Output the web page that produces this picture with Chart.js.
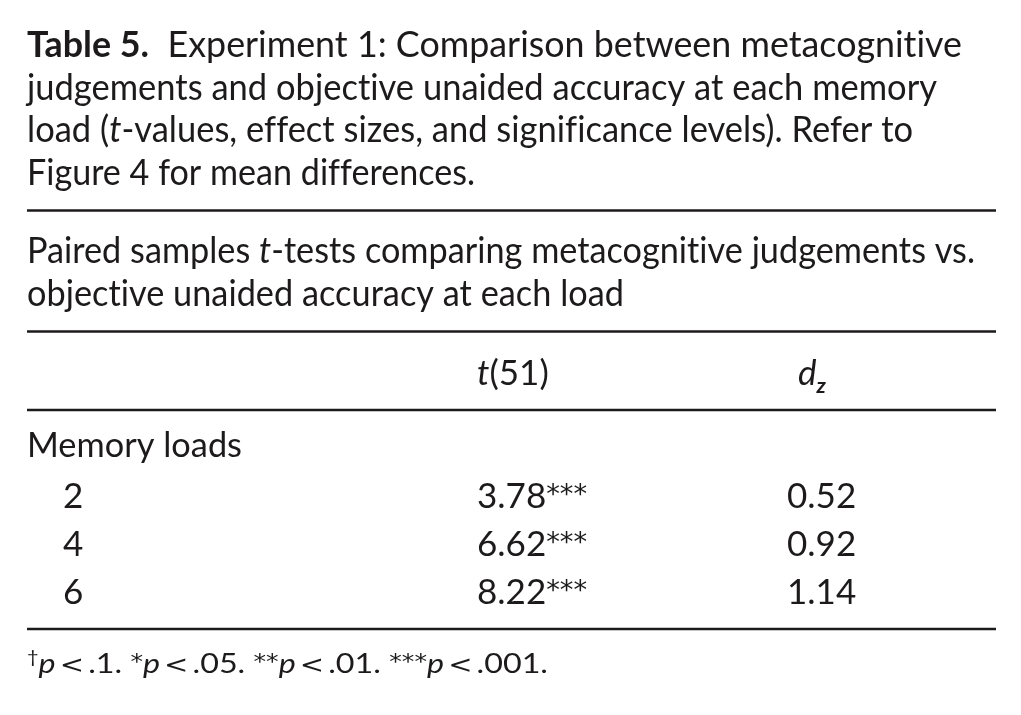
<!DOCTYPE html>
<html>
<head>
<meta charset="utf-8">
<script src="https://cdn.jsdelivr.net/npm/chart.js@4.4.1/dist/chart.umd.min.js"></script>
<style>
  html, body { margin: 0; padding: 0; background: #fff; }
  canvas { display: block; }
</style>
</head>
<body>
<canvas id="table5" width="1021" height="715"></canvas>
<script>
// ---- table data ----
const memoryLoads = ["2", "4", "6"];
const tValues = [3.78, 6.62, 8.22];
const tSignif = ["***", "***", "***"];
const dzValues = [0.52, 0.92, 1.14];
const degreesOfFreedom = 51;

// text runs: [text, style]  style: b bold, i italic, sup, sub, star, m (math symbol)
const captionLines = [
  [["Table 5.", "b"], ["  Experiment 1: Comparison between metacognitive", ""]],
  [["judgements and objective unaided accuracy at each memory", ""]],
  [["load (", ""], ["t", "i"], ["-values, effect sizes, and significance levels). Refer to", ""]],
  [["Figure 4 for mean differences.", ""]],
];
const subtitleLines = [
  [["Paired samples ", ""], ["t", "i"], ["-tests comparing metacognitive judgements vs.", ""]],
  [["objective unaided accuracy at each load", ""]],
];
const rowGroupLabel = "Memory loads";
const footnote = [
  ["\u2020", "sup"], ["p", "i"], ["\u2009", ""], ["<", "m"], ["\u2009.1. ", ""],
  ["*", "star"], ["p", "i"], ["\u2009", ""], ["<", "m"], ["\u2009.05. ", ""],
  ["**", "star"], ["p", "i"], ["\u2009", ""], ["<", "m"], ["\u2009.01. ", ""],
  ["***", "star"], ["p", "i"], ["\u2009", ""], ["<", "m"], ["\u2009.001.", ""],
];

// ---- layout (pixels on a 1021 x 715 page) ----
const FONT = "Lato, 'Open Sans', sans-serif";
const SYM_FONT = "'DejaVu Sans', sans-serif";
const INK = "#1c1a1b";
const LEFT = 27, RIGHT = 996;
const ruleY = [210.5, 331.5, 410, 629];
const captionBase = [57, 100, 142, 185];
const captionWidth = [935, 910, 886, 448];
const subtitleBase = [263, 306];
const subtitleWidth = [948, 597];
const headerBase = 385;
const groupBase = 457;
const rowBase = [508, 556, 604];
const footBase = 673;
const col = { load: 63, t: 477, d: 787 };

function runFont(style, size) {
  if (style === "star") return (size * 0.78) + "px " + SYM_FONT;
  if (style === "m") return (size * 0.9) + "px " + SYM_FONT;
  let s = "";
  if (style.includes("i")) s += "italic ";
  if (style.includes("b")) s += "bold ";
  const fs = (style.includes("sup") || style.includes("sub")) ? size * 0.62 : size;
  return s + fs + "px " + FONT;
}

function runShift(style, size) {
  if (style === "star") return -size * 0.15;
  if (style.includes("sup")) return -size * 0.36;
  if (style.includes("sub")) return size * 0.22;
  return 0;
}

function drawRuns(ctx, runs, x, y, size, width) {
  ctx.save();
  ctx.letterSpacing = "0.01px"; // keeps Lato from joining "ti"
  let total = 0;
  runs.forEach(([t, st]) => { ctx.font = runFont(st, size); total += ctx.measureText(t).width; });
  const sx = width ? width / total : 1;
  ctx.translate(x, y);
  ctx.scale(sx, 1);
  ctx.fillStyle = INK;
  ctx.textBaseline = "alphabetic";
  let cx = 0;
  runs.forEach(([t, st]) => {
    ctx.font = runFont(st, size);
    ctx.fillText(t, cx, runShift(st, size));
    cx += ctx.measureText(t).width;
  });
  ctx.restore();
}

const textPlugin = {
  id: "tableText",
  afterDatasetsDraw(chart) {
    const ctx = chart.ctx;
    chart.data.datasets.forEach((ds, i) => {
      if (!ds.cellText) return;
      const meta = chart.getDatasetMeta(i);
      meta.data.forEach((pt, j) => {
        drawRuns(ctx, ds.cellText[j], pt.x, pt.y, ds.cellSize, ds.cellWidth ? ds.cellWidth[j] : null);
      });
    });
  }
};

function textSet(label, points, runsList, size, widths) {
  return {
    type: "scatter", label: label, data: points,
    pointRadius: 0, pointHoverRadius: 0,
    cellText: runsList, cellSize: size, cellWidth: widths
  };
}

const datasets = [];
ruleY.forEach((y, k) => {
  datasets.push({
    type: "line", label: "rule" + k,
    data: [{ x: LEFT, y: y }, { x: RIGHT, y: y }],
    borderColor: INK, borderWidth: 2.4, pointRadius: 0, fill: false
  });
});
datasets.push(textSet("caption", captionBase.map(y => ({ x: LEFT, y })), captionLines, 36, captionWidth));
datasets.push(textSet("subtitle", subtitleBase.map(y => ({ x: LEFT, y })), subtitleLines, 36, subtitleWidth));
datasets.push(textSet("header",
  [{ x: col.t, y: headerBase }, { x: col.d + 11, y: headerBase }],
  [[["t", "i"], ["(" + degreesOfFreedom + ")", ""]], [["d", "i"], ["z", "isub"]]], 35, null));
datasets.push(textSet("group", [{ x: LEFT, y: groupBase }], [[[rowGroupLabel, ""]]], 35, [215]));
datasets.push(textSet("loads", memoryLoads.map((v, j) => ({ x: col.load, y: rowBase[j] })),
  memoryLoads.map(v => [[v, ""]]), 35, null));
datasets.push(textSet("t", tValues.map((v, j) => ({ x: col.t, y: rowBase[j] })),
  tValues.map((v, j) => [[v.toFixed(2), ""], [tSignif[j], "star"]]), 35, null));
datasets.push(textSet("dz", dzValues.map((v, j) => ({ x: col.d, y: rowBase[j] })),
  dzValues.map(v => [[v.toFixed(2), ""]]), 35, null));
datasets.push(textSet("footnote", [{ x: LEFT, y: footBase }], [footnote], 27, [521]));

new Chart(document.getElementById("table5"), {
  type: "scatter",
  data: { datasets: datasets },
  options: {
    responsive: false,
    animation: false,
    events: [],
    layout: { padding: 0 },
    plugins: { legend: { display: false }, tooltip: { enabled: false } },
    scales: {
      x: { type: "linear", min: 0, max: 1021, display: false },
      y: { type: "linear", min: 0, max: 715, reverse: true, display: false }
    }
  },
  plugins: [textPlugin]
});
</script>
</body>
</html>
